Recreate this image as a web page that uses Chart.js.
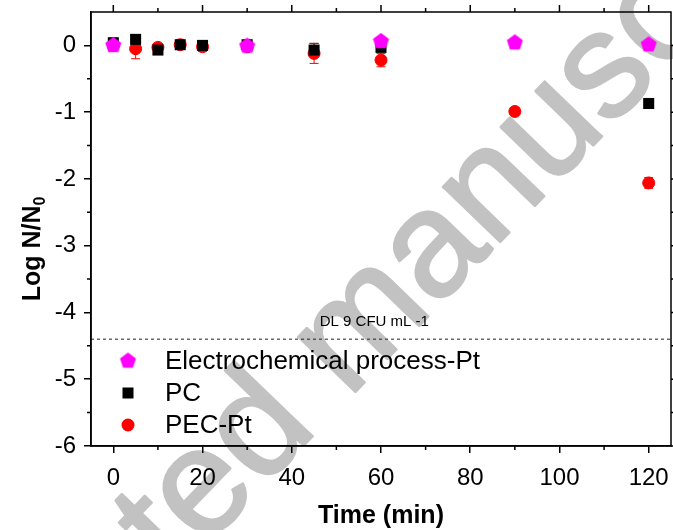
<!DOCTYPE html>
<html><head><meta charset="utf-8">
<script src="https://cdn.jsdelivr.net/npm/chart.js@4"></script>
<style>html,body{margin:0;padding:0;background:#fff}#wrap{width:673px;height:530px}</style>
</head><body><div id="wrap"><canvas id="c" width="673" height="530"></canvas></div>
<script>
// ---- data ----
const electroLabel = 'Electrochemical process-Pt';
const electroTime = [0, 30, 60, 90, 120];
const electroVal  = [0.0, -0.01, 0.06, 0.04, 0.01];
const electroErr  = [0, 0, 0, 0, 0];

const pcLabel = 'PC';
const pcTime = [0, 5, 10, 15, 20, 30, 45, 60, 120];
const pcVal  = [0.04, 0.09, -0.07, 0.01, 0.0, 0.01, -0.07, -0.03, -0.87];
const pcErr  = [0, 0, 0.03, 0.02, 0.02, 0, 0.10, 0, 0];

const pecLabel = 'PEC-Pt';
const pecTime = [0, 5, 10, 15, 20, 30, 45, 60, 90, 120];
const pecVal  = [0.0, -0.05, -0.03, 0.01, -0.02, -0.02, -0.12, -0.22, -0.99, -2.06];
const pecErr  = [0, 0.15, 0.06, 0.05, 0.07, 0.05, 0.15, 0.10, 0, 0.08];

const xTickValues = [0, 10, 20, 30, 40, 50, 60, 70, 80, 90, 100, 110, 120];
const xTickLabels = ['0', '', '20', '', '40', '', '60', '', '80', '', '100', '', '120'];
const yTickValues = [-6, -5.5, -5, -4.5, -4, -3.5, -3, -2.5, -2, -1.5, -1, -0.5, 0];
const yTickLabels = ['-6', '', '-5', '', '-4', '', '-3', '', '-2', '', '-1', '', '0'];

const detectionLimit = -4.4;
const detectionText = 'DL 9 CFU mL -1';
const watermarkText = 'Accepted manuscript';

const FONT = '"Liberation Sans", Arial, sans-serif';

function makePentagon(r, color) {
  const s = Math.ceil(2 * r + 2);
  const c = document.createElement('canvas'); c.width = s; c.height = s;
  const g = c.getContext('2d');
  g.fillStyle = color; g.beginPath();
  for (let i = 0; i < 5; i++) {
    const a = -Math.PI / 2 + i * 2 * Math.PI / 5;
    const x = s / 2 + r * Math.cos(a), y = s / 2 + r * Math.sin(a);
    i ? g.lineTo(x, y) : g.moveTo(x, y);
  }
  g.closePath(); g.fill();
  return c;
}
const pentagon = makePentagon(8.4, '#ff00ff');

function pts(t, v) { return t.map((x, i) => ({ x: x, y: v[i] })); }

const datasets = [
  { label: electroLabel, data: pts(electroTime, electroVal), err: electroErr, pointStyle: pentagon,
    backgroundColor: '#ff00ff', borderColor: '#ff00ff', errColor: '#ff00ff', legendStyle: 'pentagon' },
  { label: pcLabel, data: pts(pcTime, pcVal), err: pcErr, pointStyle: 'rect', pointRadius: 7.8, borderWidth: 0,
    backgroundColor: '#000000', borderColor: '#000000', errColor: '#000000', legendStyle: 'rect' },
  { label: pecLabel, data: pts(pecTime, pecVal), err: pecErr, pointStyle: 'circle', pointRadius: 6, borderWidth: 1,
    backgroundColor: '#ff0000', borderColor: '#ff0000', errColor: '#ff0000', legendStyle: 'circle' }
];
datasets.forEach(d => { d.showLine = false; d.pointHoverRadius = d.pointRadius; });

const bgPlugin = {
  id: 'bg',
  beforeDraw(chart) {
    const ctx = chart.ctx;
    ctx.save();
    ctx.fillStyle = '#fff'; ctx.fillRect(0, 0, chart.width, chart.height);
    // watermark (anchored at the crossing of the "t")
    const fs = 150;
    ctx.font = fs + 'px ' + FONT;
    const w = s => ctx.measureText(s).width;
    const xt = w('Accep') + w('t') * 0.4;
    ctx.translate(130, 513);
    ctx.rotate(-46 * Math.PI / 180);
    ctx.fillStyle = '#c2c2c2'; ctx.strokeStyle = '#c2c2c2';
    ctx.lineWidth = 2.5; ctx.lineJoin = 'round';
    ctx.textBaseline = 'alphabetic';
    ctx.fillText(watermarkText, -xt, 0.52 * fs);
    ctx.strokeText(watermarkText, -xt, 0.52 * fs);
    ctx.restore();
  }
};

const decoPlugin = {
  id: 'deco',
  beforeDatasetsDraw(chart) {
    const ctx = chart.ctx, xs = chart.scales.x, ys = chart.scales.y, ca = chart.chartArea;
    ctx.save();
    // detection limit line
    const yd = ys.getPixelForValue(detectionLimit);
    ctx.strokeStyle = '#222'; ctx.lineWidth = 1; ctx.setLineDash([3, 3]);
    ctx.beginPath(); ctx.moveTo(ca.left, yd); ctx.lineTo(ca.right, yd); ctx.stroke();
    ctx.setLineDash([]);
    ctx.fillStyle = '#000'; ctx.font = '15px ' + FONT; ctx.textAlign = 'center'; ctx.textBaseline = 'alphabetic';
    ctx.fillText(detectionText, xs.getPixelForValue(58.5), yd - 13);
    // error bars
    chart.data.datasets.forEach(d => {
      ctx.strokeStyle = d.errColor; ctx.lineWidth = 1;
      d.data.forEach((p, i) => {
        const e = d.err[i]; if (!e) return;
        const x = xs.getPixelForValue(p.x), y1 = ys.getPixelForValue(p.y + e), y2 = ys.getPixelForValue(p.y - e);
        ctx.beginPath();
        ctx.moveTo(x, y1); ctx.lineTo(x, y2);
        ctx.moveTo(x - 4.5, y1); ctx.lineTo(x + 4.5, y1);
        ctx.moveTo(x - 4.5, y2); ctx.lineTo(x + 4.5, y2);
        ctx.stroke();
      });
    });
    ctx.restore();
  },
  afterDraw(chart) {
    const ctx = chart.ctx, ca = chart.chartArea, xs = chart.scales.x, ys = chart.scales.y;
    ctx.save();
    // frame
    ctx.strokeStyle = '#000'; ctx.lineWidth = 1.5;
    ctx.strokeRect(ca.left, ca.top, ca.right - ca.left, ca.bottom - ca.top);
    // minor ticks and mirrored ticks
    ctx.lineWidth = 1.5; ctx.beginPath();
    xTickValues.forEach((v, i) => {
      const x = xs.getPixelForValue(v);
      if (xTickLabels[i] === '') { ctx.moveTo(x, ca.bottom); ctx.lineTo(x, ca.bottom + 4); }
      ctx.moveTo(x, ca.top); ctx.lineTo(x, ca.top - (xTickLabels[i] === '' ? 4 : 7));
    });
    yTickValues.forEach((v, i) => {
      const y = ys.getPixelForValue(v);
      if (yTickLabels[i] === '') { ctx.moveTo(ca.left, y); ctx.lineTo(ca.left - 4, y); }
      ctx.moveTo(ca.right, y); ctx.lineTo(ca.right + (yTickLabels[i] === '' ? 4 : 7), y);
    });
    ctx.stroke();
    // legend
    const rows = [361, 393, 425];
    chart.data.datasets.forEach((d, i) => {
      const y = rows[i], x = 128;
      ctx.fillStyle = d.backgroundColor;
      if (d.legendStyle === 'pentagon') {
        ctx.drawImage(pentagon, x - pentagon.width / 2, y - pentagon.height / 2);
      } else if (d.legendStyle === 'rect') {
        ctx.fillRect(x - 5.5, y - 5.5, 11, 11);
      } else {
        ctx.beginPath(); ctx.arc(x, y, 6.5, 0, 2 * Math.PI); ctx.fill();
      }
      ctx.fillStyle = '#000'; ctx.font = '26px ' + FONT; ctx.textAlign = 'left'; ctx.textBaseline = 'middle';
      ctx.fillText(d.label, 165, y + 1);
    });
    // axis titles
    ctx.fillStyle = '#000';
    ctx.font = 'bold 25px ' + FONT; ctx.textAlign = 'center'; ctx.textBaseline = 'middle';
    ctx.fillText('Time (min)', (ca.left + ca.right) / 2, 516);
    ctx.save();
    ctx.translate(31, 249); ctx.rotate(-Math.PI / 2);
    ctx.font = 'bold 25px ' + FONT;
    const wm = ctx.measureText('Log N/N').width;
    ctx.font = 'bold 16px ' + FONT;
    const ws = ctx.measureText('0').width;
    const start = -(wm + ws) / 2;
    ctx.textAlign = 'left'; ctx.textBaseline = 'alphabetic';
    ctx.font = 'bold 25px ' + FONT;
    ctx.fillText('Log N/N', start, 9);
    ctx.font = 'bold 16px ' + FONT;
    ctx.fillText('0', start + wm, 14);
    ctx.restore();
    ctx.restore();
  }
};

new Chart(document.getElementById('c'), {
  type: 'scatter',
  data: { datasets: datasets },
  options: {
    responsive: false, animation: false, devicePixelRatio: 1,
    layout: { autoPadding: false, padding: { top: 12, right: 2, left: 0, bottom: 0 } },
    plugins: { legend: { display: false }, tooltip: { enabled: false } },
    scales: {
      x: {
        type: 'linear', min: -5, max: 125,
        afterBuildTicks: s => { s.ticks = xTickValues.map(v => ({ value: v })); },
        afterFit: s => { s.height = 84; s.paddingLeft = 0; s.paddingRight = 0; },
        ticks: { font: { family: FONT, size: 24 }, color: '#000', padding: 11, maxRotation: 0, autoSkip: false,
          callback: (v, i) => xTickLabels[i] },
        grid: { drawOnChartArea: false, drawTicks: true, tickLength: 7, lineWidth: 1.5,
          tickColor: c => (c.tick && xTickLabels[xTickValues.indexOf(c.tick.value)] !== '') ? '#000' : 'rgba(0,0,0,0)' },
        border: { display: true, color: '#000', width: 1.5 }
      },
      y: {
        type: 'linear', min: -6, max: 0.5,
        afterBuildTicks: s => { s.ticks = yTickValues.map(v => ({ value: v })); },
        afterFit: s => { s.width = 91; s.paddingTop = 0; s.paddingBottom = 0; },
        ticks: { font: { family: FONT, size: 24 }, color: '#000', padding: 8, autoSkip: false,
          callback: (v, i) => yTickLabels[i] },
        grid: { drawOnChartArea: false, drawTicks: true, tickLength: 7, lineWidth: 1.5,
          tickColor: c => (c.tick && yTickLabels[yTickValues.indexOf(c.tick.value)] !== '') ? '#000' : 'rgba(0,0,0,0)' },
        border: { display: true, color: '#000', width: 1.5 }
      }
    }
  },
  plugins: [bgPlugin, decoPlugin]
});
</script></body></html>
